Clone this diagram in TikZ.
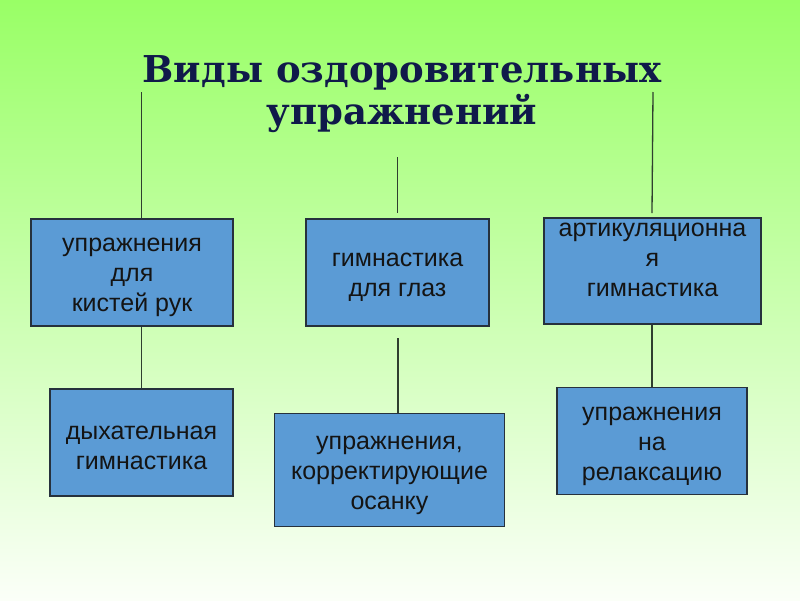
\documentclass[tikz,border=0pt]{standalone}
\usepackage{fontspec}
\setmainfont{Liberation Sans}
\newfontfamily\titlefont{DejaVu Serif}
\definecolor{bgtop}{HTML}{99FF66}
\definecolor{bgbot}{HTML}{FBFFF8}
\definecolor{boxfill}{HTML}{5B9BD5}
\definecolor{boxline}{HTML}{26313D}
\definecolor{titlecol}{HTML}{101A4A}
\definecolor{linecol}{HTML}{2F3F2F}
\tikzset{
  box/.style={draw=boxline, line width=1.3pt, fill=boxfill, inner sep=0pt},
  conn/.style={draw=linecol, line width=1.3pt},
  boxtext/.style={align=center, text=black!92, font=\fontsize{25}{30}\selectfont, inner sep=0pt, yshift=-5pt}
}
\begin{document}
\begin{tikzpicture}[x=1pt,y=-1pt]
\shade[top color=bgtop, bottom color=bgbot] (0,0) rectangle (800,600);
\useasboundingbox (0,0) rectangle (800,600);

\node[text=titlecol, font=\titlefont\bfseries\fontsize{37}{42}\selectfont, align=center, inner sep=0pt] (title) at (402,94) {Виды оздоровительных\\упражнений};

\node[box, minimum width=202, minimum height=107] (b1) at (132,272.5) {};
\node[boxtext] (b1t) at (b1.center) {упражнения\\для\\кистей рук};
\node[box, minimum width=183, minimum height=107] (b2) at (397.5,272.5) {};
\node[boxtext] (b2t) at (b2.center) {гимнастика\\для глаз};
\node[box, minimum width=217, minimum height=106] (b3) at (652.5,271) {};
\node[boxtext] (b3t) at (652.5,255) {артикуляционна\\я\\гимнастика};
\node[box, minimum width=183, minimum height=107] (b4) at (141.5,442.5) {};
\node[boxtext] (b4t) at (b4.center) {дыхательная\\гимнастика};
\node[box, minimum width=230, minimum height=113] (b5) at (389.5,470) {};
\node[boxtext] (b5t) at (b5.center) {упражнения,\\корректирующие\\осанку};
\node[box, minimum width=190, minimum height=107] (b6) at (652,441) {};
\node[boxtext] (b6t) at (b6.center) {упражнения\\на\\релаксацию};

\coordinate (c1) at (141.5,92);
\coordinate (c2a) at (397.5,157);
\coordinate (c2b) at (397.5,213);
\coordinate (c3) at (398,338);
\coordinate (c4a) at (653,92);
\coordinate (c4b) at (652,213);

\draw[conn] (c1) -- (c1 |- b1.north);
\draw[conn] (b1.south -| c1) -- (b4.north);
\draw[conn] (c2a) -- (c2b);
\draw[conn] (c3) -- (c3 |- b5.north);
\draw[conn] (c4a) -- (c4b);
\draw[conn] (b3.south -| b6.north) -- (b6.north);
\end{tikzpicture}
\end{document}
